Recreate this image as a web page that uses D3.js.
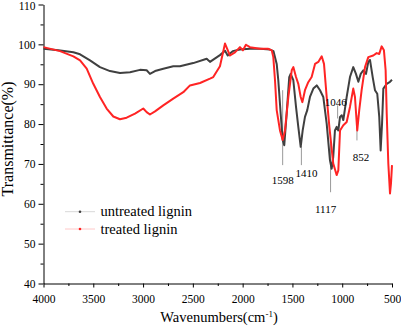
<!DOCTYPE html>
<html>
<head>
<meta charset="utf-8">
<script src="https://cdn.jsdelivr.net/npm/d3@7"></script>
<style>
  body { margin: 0; background: #fff; }
  svg text { font-family: "Liberation Serif", "Times New Roman", serif; fill: #000; }
</style>
</head>
<body>
<div id="chart"></div>
<script>
// untreated lignin (wavenumber, transmittance %)
const untreatedWn = [4000, 3850, 3700, 3633, 3533, 3433, 3332, 3232, 3131, 3031, 2964, 2931, 2880, 2797, 2697, 2630, 2496, 2361, 2328, 2228, 2177, 2150, 2100, 2027, 1927, 1826, 1726, 1690, 1658, 1642, 1618, 1598, 1582, 1558, 1532, 1518, 1491, 1464, 1441, 1417, 1397, 1374, 1351, 1324, 1290, 1256, 1223, 1190, 1156, 1123, 1106, 1090, 1073, 1056, 1039, 1022, 1005, 989, 955, 922, 889, 862, 838, 814, 788, 761, 738, 721, 694, 671, 648, 628, 614, 600, 587, 553, 520, 500];
const untreatedT = [98.9, 98.5, 98.0, 97.5, 96.0, 94.3, 93.3, 92.8, 93.0, 93.6, 93.5, 92.6, 93.3, 93.9, 94.5, 94.5, 95.3, 96.4, 95.6, 97.3, 98.4, 97.2, 98.3, 98.7, 98.9, 98.9, 98.7, 98.3, 95.1, 91.0, 82.6, 76.0, 74.7, 82.6, 91.8, 92.6, 91.0, 84.3, 79.3, 74.3, 78.4, 81.8, 83.5, 86.8, 88.9, 89.7, 88.5, 86.8, 80.1, 70.9, 68.8, 71.8, 78.4, 79.3, 78.4, 81.8, 82.2, 81.0, 86.8, 91.8, 94.3, 92.6, 90.6, 92.6, 93.5, 92.6, 95.6, 96.1, 91.8, 88.5, 87.6, 81.8, 73.4, 80.1, 88.9, 90.1, 90.6, 91.1];

// treated lignin
const treatedWn = [4000, 3834, 3700, 3633, 3566, 3500, 3433, 3366, 3299, 3232, 3165, 3081, 2998, 2964, 2931, 2880, 2797, 2697, 2596, 2529, 2428, 2328, 2295, 2228, 2177, 2127, 2077, 2027, 1997, 1967, 1927, 1826, 1746, 1708, 1692, 1675, 1658, 1625, 1598, 1575, 1541, 1507, 1491, 1464, 1441, 1417, 1400, 1374, 1341, 1307, 1273, 1240, 1206, 1183, 1156, 1129, 1090, 1056, 1039, 1022, 989, 955, 922, 889, 872, 849, 829, 805, 771, 738, 688, 654, 628, 604, 581, 564, 553, 537, 520, 510, 500];
const treatedT = [99.3, 98.3, 97.0, 96.0, 93.9, 90.1, 86.8, 83.9, 81.9, 81.2, 81.6, 82.6, 83.9, 83.0, 82.4, 83.2, 84.7, 86.4, 88.0, 89.7, 90.3, 91.4, 91.8, 94.5, 100.2, 97.2, 98.0, 99.3, 98.5, 99.9, 99.3, 98.9, 98.9, 98.5, 96.8, 91.0, 83.5, 78.4, 76.0, 78.4, 86.8, 93.5, 94.3, 91.8, 90.1, 86.8, 85.5, 88.5, 90.5, 91.8, 95.1, 95.6, 97.0, 95.1, 86.8, 79.3, 70.1, 67.2, 68.4, 78.4, 79.7, 80.5, 84.3, 88.9, 86.8, 78.4, 83.5, 88.5, 94.3, 96.8, 97.2, 97.8, 97.6, 99.5, 98.5, 93.5, 82.6, 70.1, 62.6, 65.2, 69.7];

const xTicks = [4000, 3500, 3000, 2500, 2000, 1500, 1000, 500];
const yTicks = [40, 50, 60, 70, 80, 90, 100, 110];
const seriesNames = ["untreated lignin", "treated lignin"];

// peak labels: wavenumber, line from/to (%), label (%)
const peaks = [
    { wn: 1598, from: 88.5, to: 69.7, label: 65.9, dx: 0 },
    { wn: 1410, from: 74.4, to: 69.7, label: 67.7, dx: 5 },
    { wn: 1117, from: 75.2, to: 62.9, label: 58.7, dx: -5 },
    { wn: 1046, from: 84.7, to: 81.4, label: 85.4, dx: -2 },
    { wn: 852, from: 82.2, to: 75.9, label: 71.8, dx: 4 }
];

const W = 401, H = 328;
const x = d3.scaleLinear().domain([4000, 500]).range([43.5, 392]);
const y = d3.scaleLinear().domain([40, 110]).range([283.5, 4.5]);

const svg = d3.select("#chart").append("svg")
    .attr("width", W)
    .attr("height", H);

// minor ticks
svg.append("g")
    .attr("transform", "translate(0,283.5)")
    .call(d3.axisBottom(x).tickValues(d3.range(3750, 500, -500)).tickSize(2.5).tickFormat(""))
    .call(g => g.select(".domain").remove());
svg.append("g")
    .attr("transform", "translate(43.5,0)")
    .call(d3.axisLeft(y).tickValues(d3.range(45, 110, 10)).tickSize(3).tickFormat(""))
    .call(g => g.select(".domain").remove());

const xAxis = svg.append("g")
    .attr("transform", "translate(0,283.5)")
    .call(d3.axisBottom(x).tickValues(xTicks).tickFormat(d3.format("d"))
        .tickSize(4).tickSizeOuter(0).tickPadding(7));
xAxis.selectAll("text").style("font-size", "11.5px");

const yAxis = svg.append("g")
    .attr("transform", "translate(43.5,0)")
    .call(d3.axisLeft(y).tickValues(yTicks).tickSize(5).tickSizeOuter(0).tickPadding(3));
yAxis.selectAll("text").style("font-size", "11.5px");
// keep the top label inside the picture
yAxis.selectAll(".tick text").filter(d => d === 110).attr("dy", "0.42em");

svg.selectAll(".domain, .tick line").attr("stroke", "#000");

// axis titles
svg.append("text")
    .attr("x", 219)
    .attr("y", 322)
    .attr("text-anchor", "middle")
    .style("font-size", "14.5px")
    .html('Wavenumbers(cm<tspan dy="-5" font-size="9px">-1</tspan><tspan dy="5">)</tspan>');

svg.append("text")
    .attr("transform", "translate(13,139) rotate(-90)")
    .attr("text-anchor", "middle")
    .style("font-size", "16px")
    .text("Transmittance(%)");

// peak marker lines
peaks.forEach(p => {
    svg.append("line")
        .attr("x1", x(p.wn)).attr("x2", x(p.wn))
        .attr("y1", y(p.from)).attr("y2", y(p.to))
        .attr("stroke", "#999")
        .attr("stroke-width", 1);
});

const line = d3.line()
    .x(d => x(d[0]))
    .y(d => y(d[1]));

const untreated = untreatedWn.map((w, i) => [w, untreatedT[i]]);
const treated = treatedWn.map((w, i) => [w, treatedT[i]]);

svg.append("path")
    .datum(untreated)
    .attr("fill", "none")
    .attr("stroke", "#404040")
    .attr("stroke-width", 2)
    .attr("stroke-linejoin", "round")
    .attr("d", line);

svg.append("path")
    .datum(treated)
    .attr("fill", "none")
    .attr("stroke", "#ff2424")
    .attr("stroke-width", 2)
    .attr("stroke-linejoin", "round")
    .attr("d", line);

// peak labels
peaks.forEach(p => {
    svg.append("text")
        .attr("x", x(p.wn) + p.dx)
        .attr("y", y(p.label))
        .attr("dy", "0.35em")
        .attr("text-anchor", "middle")
        .style("font-size", "11px")
        .text(p.wn);
});

// legend
const legendColors = [["#d8d8d8", "#404040"], ["#ffc8c8", "#ff2424"]];
seriesNames.forEach((name, i) => {
    const ly = 211.7 + i * 17.3;
    svg.append("line")
        .attr("x1", 65).attr("x2", 95)
        .attr("y1", ly).attr("y2", ly)
        .attr("stroke", legendColors[i][0])
        .attr("stroke-width", 1);
    svg.append("circle")
        .attr("cx", 80).attr("cy", ly)
        .attr("r", 1.3)
        .attr("fill", legendColors[i][1]);
    svg.append("text")
        .attr("x", 100.5)
        .attr("y", ly)
        .attr("dy", "0.33em")
        .style("font-size", "14.5px")
        .text(name);
});
</script>
</body>
</html>
